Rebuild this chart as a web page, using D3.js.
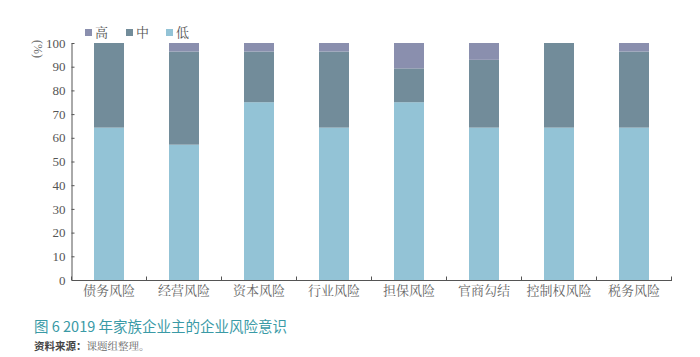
<!DOCTYPE html>
<html><head><meta charset="utf-8">
<script src="https://cdn.jsdelivr.net/npm/d3@7"></script>
<style>body{margin:0;background:#fff}svg{display:block}</style>
</head><body><svg id="c" width="700" height="357"></svg>
<script>
const categories = ["债务风险","经营风险","资本风险","行业风险","担保风险","官商勾结","控制权风险","税务风险"];
const lowValues  = [64.3, 57.1, 75.0, 64.3, 75.0, 64.3, 64.3, 64.3];
const midValues  = [35.7, 39.3, 21.4, 32.1, 14.3, 28.6, 35.7, 32.1];
const highValues = [0.0, 3.6, 3.6, 3.6, 10.7, 7.1, 0.0, 3.6];
const seriesNames = ["高","中","低"];
const yTicks = [0,10,20,30,40,50,60,70,80,90,100];
const titleText = "图 6 2019 年家族企业主的企业风险意识";
const sourceBold = "资料来源：";
const sourceText = "课题组整理。";

const colors = {"低":"#93c3d6","中":"#728c9a","高":"#8a8fae"};
const serif = "'Liberation Serif','DejaVu Serif','Noto Serif CJK SC','Noto Sans CJK SC',serif";
const sans = "'Noto Sans CJK SC','Noto Sans',sans-serif";

const svg = d3.select("#c");
const x0 = 71.5, x1 = 671.5, yTop = 43, yBot = 280;
const x = d3.scaleBand().domain(categories).range([x0, x1]).paddingInner(0.6).paddingOuter(0.3);
const y = d3.scaleLinear().domain([0,100]).range([yBot, yTop]);

const rows = categories.map((c,i)=>({cat:c, "低":lowValues[i], "中":midValues[i], "高":highValues[i]}));
const stack = d3.stack().keys(["低","中","高"])(rows);

svg.append("g").selectAll("g").data(stack).join("g")
  .attr("fill", d=>colors[d.key])
  .selectAll("rect").data(d=>d).join("rect")
  .attr("x", d=>x(d.data.cat))
  .attr("width", x.bandwidth())
  .attr("y", d=>y(d[1]))
  .attr("height", d=>Math.max(0, y(d[0])-y(d[1])));

// Y axis
const yAxis = svg.append("g").attr("transform",`translate(${x0},0)`)
  .call(d3.axisLeft(y).tickValues(yTicks).tickSizeInner(-3).tickSizeOuter(0).tickPadding(6));
yAxis.select(".domain").attr("stroke","#555");
yAxis.selectAll(".tick line").attr("stroke","#555");
yAxis.selectAll("text").attr("font-family",serif).attr("font-size",13).attr("fill","#555");

// X axis
const xAxis = svg.append("g").attr("transform",`translate(0,${yBot})`)
  .call(d3.axisBottom(x).tickSize(0).tickPadding(6));
xAxis.select(".domain").attr("stroke","#555");
xAxis.selectAll("text").attr("font-family",serif).attr("font-size",13).attr("fill","#666");
const bounds = categories.map(c=>x(c)-x.step()*x.paddingInner()/2).concat([x1]);
xAxis.selectAll(".bt").data(bounds).join("line").attr("class","bt")
  .attr("x1",d=>d).attr("x2",d=>d).attr("y1",0).attr("y2",-3.5).attr("stroke","#555");

// Y label
svg.append("text").attr("transform","translate(38,49) rotate(90)")
  .attr("text-anchor","middle").attr("dominant-baseline","central")
  .attr("font-family",serif).attr("font-size",12).attr("fill","#666").text("(%)");

// Legend
const legX = [85, 126, 166];
const lg = svg.append("g").selectAll("g").data(seriesNames).join("g")
  .attr("transform",(d,i)=>`translate(${legX[i]},29)`);
lg.append("rect").attr("width",7).attr("height",7).attr("fill",d=>colors[d]);
lg.append("text").attr("x",10).attr("y",8).attr("font-family",serif).attr("font-size",13).attr("fill","#555").text(d=>d);

// Title & source
svg.append("text").attr("x",34).attr("y",332).attr("font-family",sans).attr("font-size",14.5).attr("fill","#3a9aa6").text(titleText);
const src = svg.append("text").attr("x",34).attr("y",350).attr("font-size",10.5).attr("fill","#444");
src.append("tspan").attr("font-family",sans).attr("font-weight","bold").text(sourceBold);
src.append("tspan").attr("font-family",serif).attr("fill","#666").text(sourceText);
</script></body></html>
